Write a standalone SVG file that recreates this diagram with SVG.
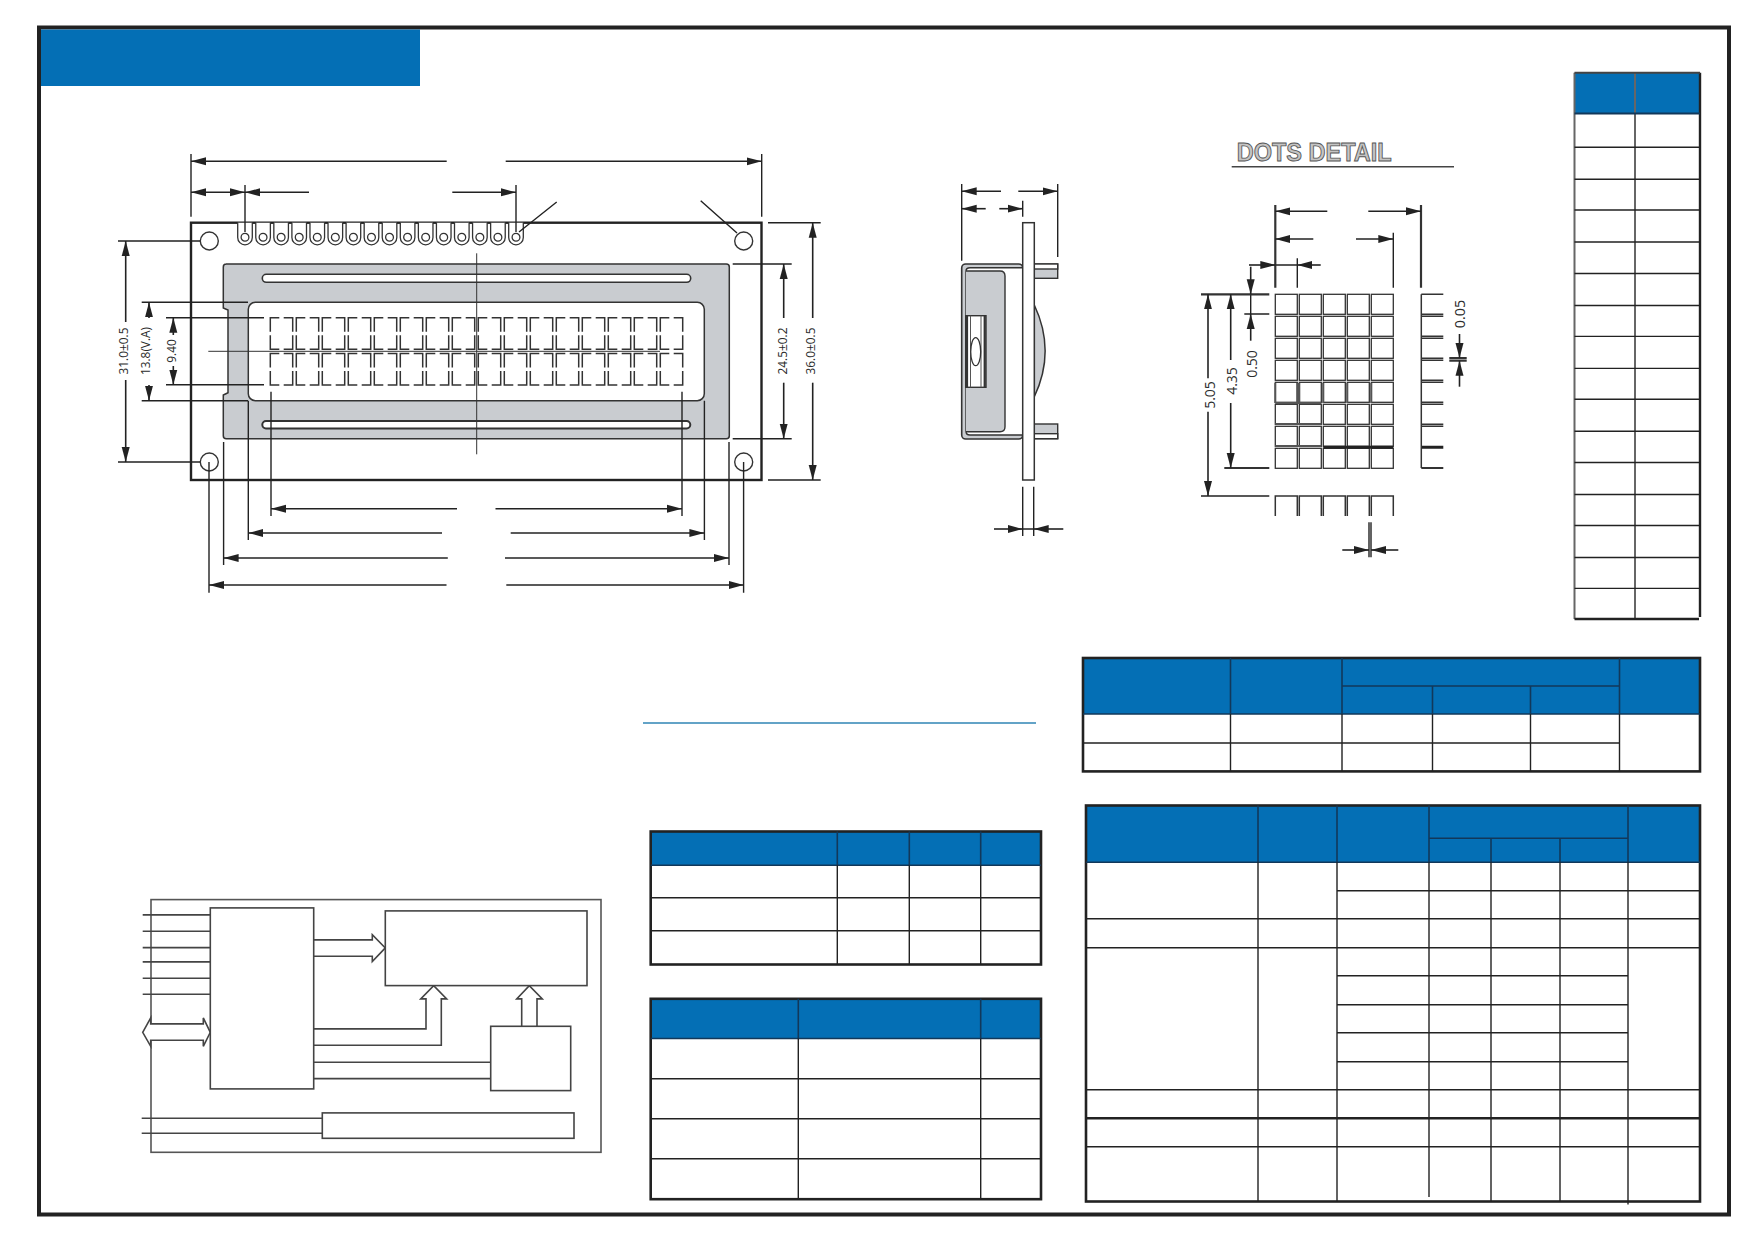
<svg xmlns="http://www.w3.org/2000/svg" xmlns:xlink="http://www.w3.org/1999/xlink" width="1754" height="1240" viewBox="0 0 1754 1240">
<style>
.d{fill:none;stroke:#222;stroke-width:1.6}
.th{fill:none;stroke:#333;stroke-width:2.2}
.e{fill:none;stroke:#222;stroke-width:1.4}
.l{fill:none;stroke:#333;stroke-width:1.5}
.t{font-family:"Open Sans","Noto Sans",sans-serif;fill:#2b2b2b;text-anchor:middle}
.blue{fill:#046fb5}
.out{fill:none;stroke:#222;stroke-width:2.6}
.rule{fill:none;stroke:#222;stroke-width:1.4}
.hr{fill:none;stroke:#12385a;stroke-width:1.6}
.bk{fill:#fff;stroke:#444;stroke-width:1.6}
.gr{fill:#c9ccd0}
</style>
<defs>
<marker id="a" markerUnits="userSpaceOnUse" markerWidth="16" markerHeight="9" refX="15" refY="4.5" orient="auto-start-reverse"><path d="M0 .5L15 4.5L0 8.5z" fill="#222"/></marker>
<g id="cell"><path class="l" d="M9 0H0V14M0 17.5V31.5H9M13.4 0H22.4V14M22.4 17.5V31.5H13.4"/></g>
<g id="row"><use xlink:href="#cell" x="0"/><use xlink:href="#cell" x="26"/><use xlink:href="#cell" x="52"/><use xlink:href="#cell" x="78"/><use xlink:href="#cell" x="104"/><use xlink:href="#cell" x="130"/><use xlink:href="#cell" x="156"/><use xlink:href="#cell" x="182"/><use xlink:href="#cell" x="208"/><use xlink:href="#cell" x="234"/><use xlink:href="#cell" x="260"/><use xlink:href="#cell" x="286"/><use xlink:href="#cell" x="312"/><use xlink:href="#cell" x="338"/><use xlink:href="#cell" x="364"/><use xlink:href="#cell" x="390"/></g>
<g id="pin"><path d="M-7.3 0V14.8a7.3 7.3 0 0 0 14.6 0V0" fill="#fff" stroke="#333" stroke-width="1.3"/><circle cx="0" cy="14.6" r="3.9" fill="#fff" stroke="#333" stroke-width="1.3"/></g>
<g id="dot"><rect width="22" height="20" fill="#fff" stroke="#333" stroke-width="1.3"/></g>
<g id="dots5"><use xlink:href="#dot" x="0"/><use xlink:href="#dot" x="24"/><use xlink:href="#dot" x="48"/><use xlink:href="#dot" x="72"/><use xlink:href="#dot" x="96"/></g>
</defs>
<rect width="1754" height="1240" fill="#fff"/>
<rect id="frame" x="39" y="27.5" width="1690" height="1187" fill="none" stroke="#222" stroke-width="4"/>
<rect id="banner" class="blue" x="41" y="29.5" width="379" height="56.5"/>
<path id="rule-line" d="M643 723H1036" fill="none" stroke="#2f85b5" stroke-width="1.3"/>

<g id="front-view">
<rect x="191" y="222.7" width="570.5" height="257.3" fill="#fff" stroke="#222" stroke-width="2.4"/>
<path class="gr" stroke="#333" stroke-width="1.5" d="M226 264H726.3q3 0 3 3V435.7q0 3-3 3H226.3q-3 0-3-3V395l4.7-2.3V310l-4.7-2V267q0-3 3-3z"/>
<rect x="262.3" y="274.3" width="428.4" height="8" rx="4" fill="#fff" stroke="#333" stroke-width="1.6"/>
<rect x="262.3" y="421" width="428" height="7.4" rx="3.7" fill="#fff" stroke="#333" stroke-width="2"/>
<rect x="248.3" y="302.3" width="456" height="98.4" rx="7" fill="#fff" stroke="#333" stroke-width="1.5"/>
<use xlink:href="#row" x="270.3" y="317.7"/>
<use xlink:href="#row" x="270.3" y="353.5"/>
<use xlink:href="#pin" x="245" y="222.7"/><use xlink:href="#pin" x="263.07" y="222.7"/><use xlink:href="#pin" x="281.13" y="222.7"/><use xlink:href="#pin" x="299.2" y="222.7"/><use xlink:href="#pin" x="317.27" y="222.7"/><use xlink:href="#pin" x="335.33" y="222.7"/><use xlink:href="#pin" x="353.4" y="222.7"/><use xlink:href="#pin" x="371.47" y="222.7"/><use xlink:href="#pin" x="389.53" y="222.7"/><use xlink:href="#pin" x="407.6" y="222.7"/><use xlink:href="#pin" x="425.67" y="222.7"/><use xlink:href="#pin" x="443.73" y="222.7"/><use xlink:href="#pin" x="461.8" y="222.7"/><use xlink:href="#pin" x="479.87" y="222.7"/><use xlink:href="#pin" x="497.93" y="222.7"/><use xlink:href="#pin" x="516" y="222.7"/>
<circle cx="209.3" cy="241" r="9" fill="#fff" stroke="#333" stroke-width="1.4"/>
<circle cx="743.7" cy="241" r="9" fill="#fff" stroke="#333" stroke-width="1.4"/>
<circle cx="209.3" cy="462" r="9" fill="#fff" stroke="#333" stroke-width="1.4"/>
<circle cx="743.7" cy="462" r="9" fill="#fff" stroke="#333" stroke-width="1.4"/>
<path fill="none" stroke="#333" stroke-width="1" d="M476.7 253.3V454.3M208.3 351.3H660"/>
</g>

<g id="front-dimensions">
<path class="e" d="M191 154V216.7M761.7 154V216.7M245 185V232M516 185V232M556.7 202L519 232M700.7 200.7L737 233M141.7 302.3H248M141.7 400.7H248M166 317.7H264M166 384.7H264M118 241H200M118 462H200M732.7 264H791.7M732.7 438.7H791.7M768 222.7H820.7M768 480H820.7M209 462V592.7M223.6 442V565M248.3 400.7V540M271 391.7V516M682 391.7V516M704.4 400.7V540M729 442V565M743.6 462V592.7"/>
<path class="d" marker-end="url(#a)" d="M446.7 161.3H191"/>
<path class="d" marker-end="url(#a)" d="M505.7 161.3H761.7"/>
<path class="d" marker-start="url(#a)" marker-end="url(#a)" d="M191 192.3H245"/>
<path class="d" marker-end="url(#a)" d="M309 192.3H245"/>
<path class="d" marker-end="url(#a)" d="M452.3 192.3H516"/>
<path class="d" marker-end="url(#a)" d="M125.7 322V241"/>
<path class="d" marker-end="url(#a)" d="M125.7 380V462"/>
<path class="d" marker-end="url(#a)" d="M149 318V302.3"/>
<path class="d" marker-end="url(#a)" d="M149 385V400.7"/>
<path class="d" marker-end="url(#a)" d="M173.3 335V317.7"/>
<path class="d" marker-end="url(#a)" d="M173.3 366V384.7"/>
<path class="d" marker-end="url(#a)" d="M783.7 318V264"/>
<path class="d" marker-end="url(#a)" d="M783.7 382.7V438.7"/>
<path class="d" marker-end="url(#a)" d="M812.7 318V222.7"/>
<path class="d" marker-end="url(#a)" d="M812.7 382.7V480"/>
<path class="d" marker-end="url(#a)" d="M457 508.7H271"/>
<path class="d" marker-end="url(#a)" d="M495.5 508.7H682"/>
<path class="d" marker-end="url(#a)" d="M442 533H248.3"/>
<path class="d" marker-end="url(#a)" d="M510.7 533H704.4"/>
<path class="d" marker-end="url(#a)" d="M447.8 558H223.6"/>
<path class="d" marker-end="url(#a)" d="M505 558H729"/>
<path class="d" marker-end="url(#a)" d="M446.5 585H209"/>
<path class="d" marker-end="url(#a)" d="M506.3 585H743.6"/>
<text class="t" font-size="13.5" textLength="47" lengthAdjust="spacingAndGlyphs" transform="translate(128.3 351) rotate(-90)">31.0±0.5</text>
<text class="t" font-size="13.5" textLength="48" lengthAdjust="spacingAndGlyphs" transform="translate(150 351) rotate(-90)">13.8(V.A)</text>
<text class="t" font-size="13.5" textLength="23.5" lengthAdjust="spacingAndGlyphs" transform="translate(176 351) rotate(-90)">9.40</text>
<text class="t" font-size="13.5" textLength="47" lengthAdjust="spacingAndGlyphs" transform="translate(786.7 351) rotate(-90)">24.5±0.2</text>
<text class="t" font-size="13.5" textLength="47" lengthAdjust="spacingAndGlyphs" transform="translate(815 351) rotate(-90)">36.0±0.5</text>
</g>

<g id="side-view">
<path class="gr" stroke="#333" stroke-width="1.5" d="M1034.3 305Q1056 351 1034.3 396.7z"/>
<rect class="gr" x="1034.3" y="264" width="23.4" height="14.3" stroke="#333" stroke-width="1.4"/>
<rect x="1034.3" y="264" width="23.4" height="5" fill="#fff" stroke="#333" stroke-width="1.4"/>
<rect class="gr" x="1034.3" y="424" width="23.4" height="14.7" stroke="#333" stroke-width="1.4"/>
<rect x="1034.3" y="433.7" width="23.4" height="5" fill="#fff" stroke="#333" stroke-width="1.4"/>
<rect class="gr" x="961.7" y="264" width="61" height="175" rx="4" stroke="#333" stroke-width="1.6"/>
<path d="M1022.7 267.7H970q-4 0-4 3.5V431.5q0 3.5 4 3.5H1022.7z" fill="#fff" stroke="#333" stroke-width="1.4"/>
<path class="gr" stroke="#333" stroke-width="1.4" d="M966 271H1000q5 0 5 5V426.7q0 5-5 5H966"/>
<rect x="965.7" y="315.7" width="20.3" height="71.6" fill="#fff" stroke="#333" stroke-width="1.4"/>
<path d="M967 315.7V387.3M984.7 315.7V387.3" stroke="#333" stroke-width="2.2" fill="none"/>
<path d="M970.5 315.7V387.3M981 315.7V387.3" stroke="#555" stroke-width="1" fill="none"/>
<ellipse cx="975.7" cy="351.7" rx="5" ry="14" fill="#fff" stroke="#333" stroke-width="1.3"/>
<rect x="1022.7" y="222.7" width="11.6" height="257.3" fill="#fff" stroke="#333" stroke-width="1.5"/>
</g>
<g id="side-dimensions">
<path class="e" d="M961.7 184V260.7M1057.7 184V257M1022.7 200.7V216.7M1022.7 486.7V536M1033.7 486.7V536M1022.7 529H1033.7"/>
<path class="d" marker-end="url(#a)" d="M1001 191.3H961.7"/>
<path class="d" marker-end="url(#a)" d="M1018.3 191.3H1057.7"/>
<path class="d" marker-end="url(#a)" d="M985.7 208.7H961.7"/>
<path class="d" marker-end="url(#a)" d="M999.3 208.7H1022.7"/>
<path class="d" marker-end="url(#a)" d="M994 529H1022.7"/>
<path class="d" marker-end="url(#a)" d="M1063.3 529H1033.7"/>
</g>

<g id="dots-detail">
<text x="1236.7" y="160.7" font-family="Liberation Sans,sans-serif" font-weight="700" font-size="25" textLength="155" lengthAdjust="spacingAndGlyphs" fill="#c4c4c4" stroke="#555" stroke-width=".9">DOTS DETAIL</text>
<path d="M1231.7 166.7H1454" fill="none" stroke="#444" stroke-width="1.6"/>
<use xlink:href="#dots5" x="1275.3" y="294.3"/><use xlink:href="#dots5" x="1275.3" y="316.3"/><use xlink:href="#dots5" x="1275.3" y="338.3"/><use xlink:href="#dots5" x="1275.3" y="360.3"/><use xlink:href="#dots5" x="1275.3" y="382.3"/><use xlink:href="#dots5" x="1275.3" y="404.3"/><use xlink:href="#dots5" x="1275.3" y="426.3"/><use xlink:href="#dots5" x="1275.3" y="448.3"/>
<path d="M1323.3 447.3H1393.3M1421.3 447.3H1443.3" stroke="#222" stroke-width="3" fill="none"/>
<path d="M1275.3 383V403M1299.3 383V403M1297.3 383V403M1323.3 383V403M1347.3 383V403M1371.3 383V403M1275.3 403H1321.3M1275.3 424H1321.3M1275.3 446H1321.3" stroke="#555" stroke-width="2" fill="none"/>
<path class="l" d="M1421.3 294.3V468M1421.3 294.3H1443.3M1421.3 314.3H1443.3M1421.3 316.3H1443.3M1421.3 336.3H1443.3M1421.3 338.3H1443.3M1421.3 358.3H1443.3M1421.3 360.3H1443.3M1421.3 380.3H1443.3M1421.3 382.3H1443.3M1421.3 402.3H1443.3M1421.3 404.3H1443.3M1421.3 424.3H1443.3M1421.3 426.3H1443.3"/>
<path d="M1421.3 468H1443.3" stroke="#333" stroke-width="2" fill="none"/>
<path class="l" d="M1275.3 516V496H1297.3V516M1299.3 516V496H1321.3V516M1323.3 516V496H1345.3V516M1347.3 516V496H1369.3V516M1371.3 516V496H1393.3V516"/>
<path class="e" d="M1393.3 232.7V287.7M1297.3 258.3V287.7M1244.3 314H1269.3M1201 496H1269.3M1369 522.3V557.3M1371 522.3V557.3M1275.3 265H1297.3M1250.7 294.3V314"/>
<path class="th" d="M1275.3 205V287.7M1421 205V287.7M1201 294.3H1269.3M1224.3 468H1269.3M1449.3 358H1466.7M1449.3 360.7H1466.7"/>
<path class="d" marker-end="url(#a)" d="M1327.3 211.3H1275.3"/>
<path class="d" marker-end="url(#a)" d="M1368.3 211.3H1421"/>
<path class="d" marker-end="url(#a)" d="M1313.3 239H1275.3"/>
<path class="d" marker-end="url(#a)" d="M1356 239H1393.3"/>
<path class="d" marker-end="url(#a)" d="M1249 265H1275.3"/>
<path class="d" marker-end="url(#a)" d="M1320.7 265H1297.3"/>
<path class="d" marker-end="url(#a)" d="M1250.7 266.7V294.3"/>
<path class="d" marker-end="url(#a)" d="M1250.7 340.7V314"/>
<path class="d" marker-end="url(#a)" d="M1230.7 360V294.3"/>
<path class="d" marker-end="url(#a)" d="M1230.7 403V468"/>
<path class="d" marker-end="url(#a)" d="M1208 378.3V294.3"/>
<path class="d" marker-end="url(#a)" d="M1208 411.7V496"/>
<path class="d" marker-end="url(#a)" d="M1459.5 334V358"/>
<path class="d" marker-end="url(#a)" d="M1459.5 386.7V360.7"/>
<path class="d" marker-end="url(#a)" d="M1342.3 550H1369"/>
<path class="d" marker-end="url(#a)" d="M1398.3 550H1371"/>
<text class="t" font-size="15" textLength="27.7" lengthAdjust="spacingAndGlyphs" transform="translate(1257.3 364) rotate(-90)">0.50</text>
<text class="t" font-size="15" textLength="27.7" lengthAdjust="spacingAndGlyphs" transform="translate(1236.7 381) rotate(-90)">4.35</text>
<text class="t" font-size="15" textLength="27.7" lengthAdjust="spacingAndGlyphs" transform="translate(1214.5 395) rotate(-90)">5.05</text>
<text class="t" font-size="15" textLength="28.3" lengthAdjust="spacingAndGlyphs" transform="translate(1465 314) rotate(-90)">0.05</text>
</g>

<g id="pin-table">
<rect class="blue" x="1574.5" y="72.7" width="125.5" height="40.8"/>
<path d="M1574.5 72.7V619M1635 72.7V619" fill="none" stroke="#666" stroke-width="2"/>
<path d="M1700 72.7V617" fill="none" stroke="#222" stroke-width="2.4"/>
<path d="M1574.5 72.7H1700" fill="none" stroke="#444" stroke-width="2"/>
<path d="M1574.5 113.5H1700" fill="none" stroke="#12385a" stroke-width="2"/>
<path class="rule" d="M1574.5 147.3H1700M1574.5 179.3H1700M1574.5 210H1700M1574.5 242H1700M1574.5 273.5H1700M1574.5 305.5H1700M1574.5 336.4H1700M1574.5 368.4H1700M1574.5 399.3H1700M1574.5 431.3H1700M1574.5 462.5H1700M1574.5 494.5H1700M1574.5 525.5H1700M1574.5 557.5H1700M1574.5 588.4H1700"/>
<path d="M1574.5 619H1699" fill="none" stroke="#222" stroke-width="2.4"/>
</g>

<g id="table-optical">
<rect class="blue" x="1083" y="658" width="617" height="56"/>
<rect class="out" x="1083" y="658" width="617" height="113.4"/>
<path class="hr" d="M1342 686H1619.5M1083 714H1700"/>
<path class="hr" stroke-width="1.2" d="M1230.5 658V714M1342 658V714M1432.5 686V714M1530.5 686V714M1619.5 658V714"/>
<path class="rule" d="M1230.5 714V771.4M1342 714V771.4M1432.5 714V771.4M1530.5 714V771.4M1619.5 714V771.4M1083 743H1619.5"/>
</g>

<g id="table-electrical">
<rect class="blue" x="1086" y="805.5" width="614" height="56.7"/>
<rect class="out" x="1086" y="805.5" width="614" height="396"/>
<path class="hr" d="M1429 838.2H1628M1086 862.2H1700"/>
<path class="hr" stroke-width="1.2" d="M1258 805.5V862.2M1337 805.5V862.2M1429 805.5V862.2M1628 805.5V862.2M1491 838.2V862.2M1560 838.2V862.2"/>
<path class="rule" d="M1258 862.2V1201.5M1337 862.2V1201.5M1429 862.2V1197M1491 862.2V1201.5M1560 862.2V1201.5M1628 862.2V1204.5M1337 890.8H1700M1086 918.8H1700M1086 947.8H1700M1337 975.8H1628M1337 1004.8H1628M1337 1032.8H1628M1337 1061.8H1628M1086 1089.8H1700M1086 1146.8H1700"/>
<path d="M1086 1118.2H1700" fill="none" stroke="#222" stroke-width="2.6"/>
</g>

<g id="table-abs-a">
<rect class="blue" x="650.7" y="831.5" width="390.3" height="33.7"/>
<rect class="out" x="650.7" y="831.5" width="390.3" height="133"/>
<path class="hr" d="M650.7 865.2H1041"/>
<path class="hr" stroke-width="1.2" d="M837.3 831.5V865.2M909.3 831.5V865.2M980.7 831.5V865.2"/>
<path class="rule" d="M837.3 865.2V964.5M909.3 865.2V964.5M980.7 865.2V964.5M650.7 897.8H1041M650.7 930.8H1041"/>
</g>

<g id="table-abs-b">
<rect class="blue" x="650.7" y="998.8" width="390.3" height="39.7"/>
<rect class="out" x="650.7" y="998.8" width="390.3" height="200.4"/>
<path class="hr" d="M650.7 1038.5H1041"/>
<path class="hr" stroke-width="1.2" d="M798.3 998.8V1038.5M980.7 998.8V1038.5"/>
<path class="rule" d="M798.3 1038.5V1199.2M980.7 1038.5V1199.2M650.7 1078.8H1041M650.7 1118.8H1041M650.7 1158.8H1041"/>
</g>

<g id="block-diagram" transform="translate(0 .6)">
<rect id="outer-box" x="151" y="899" width="450" height="252.7" fill="#fff" stroke="#555" stroke-width="1.6"/>
<g id="connectors">
<path class="bk" style="fill:none" d="M142.7 914.3H210.3M142.7 930.7H210.3M142.7 947H210.3M142.7 961.3H210.3M142.7 977.7H210.3M142.7 993.7H210.3M141.7 1117.7H322.3M141.7 1132.7H322.3M313.7 1061.7H490.7M313.7 1078H490.7"/>
<path class="bk" d="M142.7 1031.7L150.7 1017.3V1023.3H203.3V1017.3L210.3 1031.7L203.3 1045.7V1039.7H150.7V1045.7z"/>
<path class="bk" d="M313.7 939.3H372.3V934L385.3 947.3L372.3 961V955.7H313.7"/>
<path class="bk" d="M313.7 1028.3H426V998.3H420.7L433.7 985L446.7 998.3H441.3V1044.7H313.7"/>
<path class="bk" d="M521.7 1025.7V998.3H516.7L529.3 985L542.3 998.3H537V1025.7"/>
</g>
<rect id="controller" class="bk" x="210.3" y="907.3" width="103.4" height="181"/>
<rect id="display" class="bk" x="385.3" y="910.3" width="201.7" height="74.7"/>
<rect id="driver" class="bk" x="490.7" y="1025.7" width="80" height="64.3"/>
<rect id="backlight" class="bk" x="322.3" y="1112.3" width="251.7" height="25.4"/>
</g>
</svg>
